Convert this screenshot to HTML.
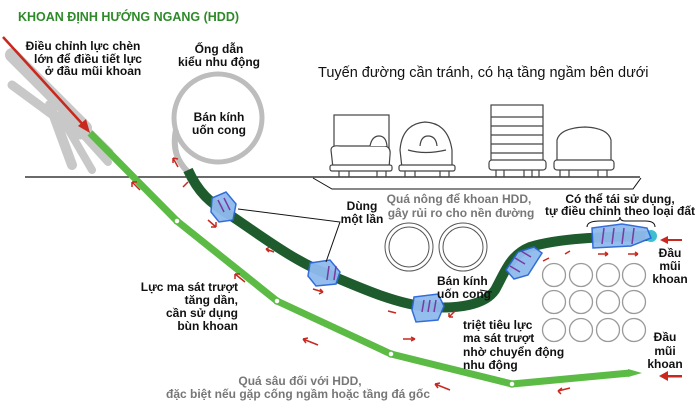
<!DOCTYPE html>
<html><head><meta charset="utf-8"><style>
html,body{margin:0;padding:0;background:#fff}
svg{display:block}
text{font-family:"Liberation Sans",sans-serif;font-weight:bold;font-size:12px;fill:#111}
.g{fill:#777}
</style></head><body>
<svg width="700" height="411" viewBox="0 0 700 411" xmlns="http://www.w3.org/2000/svg">
<text x="18" y="21" style="fill:#2f8a2a;font-size:12.5px">KHOAN ĐỊNH HƯỚNG NGANG (HDD)</text>

<!-- hand -->
<g stroke="#c8c8c8" stroke-linecap="round" fill="none">
<line x1="12" y1="55" x2="85" y2="128" stroke-width="14"/>
<line x1="12" y1="85" x2="80" y2="135" stroke-width="9"/>
<line x1="50" y1="105" x2="72" y2="165" stroke-width="10"/>
<line x1="60" y1="115" x2="92" y2="170" stroke-width="8"/>
<line x1="70" y1="120" x2="108" y2="162" stroke-width="8"/>
<line x1="75" y1="118" x2="110" y2="152" stroke-width="7"/>
</g>
<!-- red arrow -->
<line x1="3" y1="37" x2="86" y2="128" stroke="#c8281e" stroke-width="2.5"/>
<polygon points="90,133 78,126 86,119" fill="#c8281e"/>

<!-- coil -->
<circle cx="218" cy="118" r="44" fill="none" stroke="#bdbdbd" stroke-width="5"/>
<path d="M176,130 C172,150 178,162 188,172" fill="none" stroke="#bdbdbd" stroke-width="6"/>

<!-- ground -->
<line x1="25" y1="177" x2="640" y2="177" stroke="#111" stroke-width="1.3"/>
<polyline points="313,178 332,189 633,189 641,178" fill="none" stroke="#111" stroke-width="1"/>

<!-- vehicles -->
<g fill="#fff" stroke="#444" stroke-width="1.2">
<rect x="334" y="115" width="55" height="35"/>
<path d="M331,150 Q331,145 340,146 L385,146 Q391,147 390,155 L389,168 L333,168 Z"/>
<path d="M370,146 Q372,136 379,136 Q386,136 387,146"/>
<path d="M402,168 L400,150 Q402,124 425,122 Q448,123 452,150 L452,168 Z"/>
<path d="M408,150 Q425,155 446,150"/>
<path d="M420,146 Q421,136 428,136 Q436,136 437,146"/>
<rect x="491" y="105" width="52" height="58"/>
<path d="M491,117h52M491,126h52M491,135h52M491,144h52M491,153h52"/>
<rect x="489" y="160" width="57" height="10" rx="3"/>
<path d="M557,168 L557,140 Q560,128 585,127 Q608,128 611,140 L611,168 Z"/>
<rect x="554" y="160" width="60" height="10" rx="3"/>
<path d="M339,168v9M349,168v9M377,168v9M386,168v9M405,168v9M415,168v9M440,168v9M449,168v9M496,170v7M504,170v7M524,170v7M532,170v7M539,170v7M560,170v7M569,170v7M598,170v7M607,170v7"/>
<rect x="330" y="165" width="62" height="6" rx="2"/>
<rect x="399" y="165" width="56" height="6" rx="2"/>
</g>

<!-- pipes (culverts) -->
<g fill="none" stroke="#555" stroke-width="1">
<circle cx="409" cy="247" r="24"/><circle cx="409" cy="247" r="20"/>
<circle cx="463" cy="247" r="24"/><circle cx="463" cy="247" r="20"/>
</g>
<g fill="none" stroke="#9a9a9a" stroke-width="1.3">
<circle cx="554" cy="275" r="11.5"/><circle cx="581" cy="275" r="11.5"/><circle cx="608" cy="275" r="11.5"/><circle cx="634" cy="275" r="11.5"/>
<circle cx="554" cy="302" r="11.5"/><circle cx="581" cy="302" r="11.5"/><circle cx="608" cy="302" r="11.5"/><circle cx="634" cy="302" r="11.5"/>
<circle cx="554" cy="330" r="11.5"/><circle cx="581" cy="330" r="11.5"/><circle cx="608" cy="330" r="11.5"/><circle cx="634" cy="330" r="11.5"/>
</g>

<!-- light green pipe -->
<polyline points="90,133 177,221 277,301 391,354 512,384 630,373" fill="none" stroke="#5cbb45" stroke-width="7" stroke-linejoin="round"/>
<polygon points="628,369 642,373 628,377" fill="#5cbb45"/>
<g fill="#fff" stroke="#5cbb45" stroke-width="1.5">
<circle cx="177" cy="221" r="3"/><circle cx="277" cy="301" r="3"/><circle cx="391" cy="354" r="3"/><circle cx="512" cy="384" r="3"/>
</g>

<!-- dark pipe -->
<path d="M188,170 C198,192 210,203 230,215 C260,235 295,262 330,275 C365,290 400,305 430,307 C458,309 485,305 495,290 C505,272 510,255 530,247 C560,238 600,237 650,236" fill="none" stroke="#1e5c2e" stroke-width="10"/>
<circle cx="651" cy="236" r="6" fill="#3cc0d0"/>
<!-- collars -->
<g fill="#8fbbee" stroke="#2a66d8" stroke-width="1.5" opacity="0.95">
<path d="M212,198 l14,-6 l10,12 l-3,16 l-14,2 l-8,-10 z"/>
<path d="M310,263 l20,-3 l10,12 l-4,12 l-20,2 l-8,-10 z"/>
<path d="M414,297 l24,-3 l6,12 l-6,14 l-22,2 l-4,-12 z"/>
<path d="M506,270 l12,-18 l16,-5 l8,6 l-14,22 l-14,4 z"/>
<path d="M592,228 l30,-4 l25,4 l4,10 l-20,8 l-38,2 z"/>
</g>
<g stroke="#7a3aa0" stroke-width="1.5">
<path d="M218,200l6,12M224,198l6,12M329,266l-2,14M336,266l-2,14M424,300l-2,12M430,300l-2,12M436,300l-2,12M510,266l10,6M515,258l10,6M521,251l10,6M604,228l-2,16M614,228l-2,16M624,228l-2,16M634,228l-2,16"/>
</g>

<!-- small red arrows -->
<g stroke="#c8281e" stroke-width="1.5" fill="none">
<path d="M173,158l5,9M173,158l0,5M173,158l5,1"/>
<path d="M183,187l5,-5M140,190l-8,-8M132,182l0,5M132,182l5,0"/>
<path d="M208,220l8,7M216,227l-5,0M216,227l0,-5"/>
<path d="M274,252l-8,-3M266,249l4,-2M266,249l3,3"/>
<path d="M245,282l-10,-8M235,274l0,5M235,274l5,0"/>
<path d="M313,289l10,3M323,292l-4,2M323,292l-3,-3"/>
<path d="M396,313l-8,-2"/><path d="M318,345l-15,-6M303,339l5,-1M303,339l3,4"/>
<path d="M403,339l12,0M415,339l-4,-2M415,339l-4,2"/>
<path d="M455,311l-6,6M449,317l0,-4M449,317l4,0"/>
<path d="M450,390l-15,-6M435,384l5,-1M435,384l3,4"/>
<path d="M570,251l-5,3"/><path d="M598,254l10,0M608,254l-3,-2M608,254l-3,2M628,254l10,0M638,254l-3,-2M638,254l-3,2"/>
<path d="M570,388l-12,3M558,391l4,-3M558,391l3,3"/>
<path d="M543,261l6,-3"/>
</g>
<g fill="#c8281e">
<rect x="667" y="239" width="15" height="2"/><polygon points="660,240 668,236 668,244"/>
<rect x="667" y="375" width="15" height="2.5"/><polygon points="659,376 668,371 668,381"/>
</g>

<!-- leader lines -->
<path d="M238,209 L340,222 L326,262" fill="none" stroke="#111" stroke-width="1"/>
<path d="M587,227 Q587,221 600,221 L615,221 Q620,221 620,217 Q620,221 625,221 L645,221 Q655,221 655,227" fill="none" stroke="#111" stroke-width="1"/>
<path d="M492,292 l-12,-2" stroke="#111"/>

<!-- texts -->
<text x="83" y="50" text-anchor="middle">Điều chỉnh lực chèn</text>
<text x="88" y="63" text-anchor="middle">lớn để điều tiết lực</text>
<text x="93" y="75" text-anchor="middle">ở đầu mũi khoan</text>
<text x="219" y="53" text-anchor="middle">Ống dẫn</text>
<text x="219" y="66" text-anchor="middle">kiểu nhu động</text>
<text x="219" y="121" text-anchor="middle">Bán kính</text>
<text x="219" y="134" text-anchor="middle">uốn cong</text>
<text x="318" y="77" style="font-size:14.5px;font-weight:normal">Tuyến đường cần tránh, có hạ tầng ngầm bên dưới</text>
<text x="459" y="203" text-anchor="middle" class="g">Quá nông để khoan HDD,</text>
<text x="461" y="217" text-anchor="middle" class="g">gây rủi ro cho nền đường</text>
<text x="362" y="210" text-anchor="middle">Dùng</text>
<text x="362" y="223" text-anchor="middle">một lần</text>
<text x="620" y="203" text-anchor="middle">Có thể tái sử dụng,</text>
<text x="620" y="215" text-anchor="middle">tự điều chỉnh theo loại đất</text>
<text x="670" y="257" text-anchor="middle">Đầu</text>
<text x="670" y="270" text-anchor="middle">mũi</text>
<text x="670" y="283" text-anchor="middle">khoan</text>
<text x="665" y="341" text-anchor="middle">Đầu</text>
<text x="665" y="355" text-anchor="middle">mũi</text>
<text x="665" y="368" text-anchor="middle">khoan</text>
<text x="437" y="285">Bán kính</text>
<text x="437" y="298">uốn cong</text>
<text x="463" y="329">triệt tiêu lực</text>
<text x="463" y="342">ma sát trượt</text>
<text x="463" y="356">nhờ chuyển động</text>
<text x="463" y="369">nhu động</text>
<text x="238" y="291" text-anchor="end">Lực ma sát trượt</text>
<text x="238" y="304" text-anchor="end">tăng dần,</text>
<text x="238" y="317" text-anchor="end">cần sử dụng</text>
<text x="238" y="330" text-anchor="end">bùn khoan</text>
<text x="300" y="385" text-anchor="middle" class="g">Quá sâu đối với HDD,</text>
<text x="298" y="398" text-anchor="middle" class="g">đặc biệt nếu gặp cống ngầm hoặc tầng đá gốc</text>
</svg>
</body></html>
